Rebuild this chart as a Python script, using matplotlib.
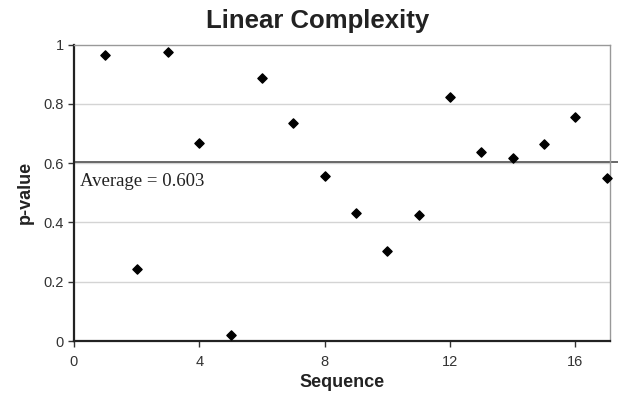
import matplotlib
matplotlib.use('Agg')
import matplotlib.pyplot as plt

# p-values per sequence
sequence = list(range(1, 18))
p_values = [0.965, 0.242, 0.974, 0.667, 0.019, 0.889, 0.737, 0.557, 0.431,
            0.305, 0.426, 0.824, 0.638, 0.619, 0.666, 0.755, 0.551]
average = 0.603
x_ticks = [0, 4, 8, 12, 16]
y_ticks = [0, 0.2, 0.4, 0.6, 0.8, 1]

plt.rcParams['font.family'] = ['Liberation Sans', 'DejaVu Sans']

fig = plt.figure(figsize=(6.18, 3.94), dpi=100)
ax = fig.add_axes([0.1197, 0.1345, 0.8673, 0.752])

# gridlines
for y in y_ticks[1:-1]:
    ax.axhline(y, color='#d4d4d4', linewidth=1, zorder=1)

# average line runs past the frame
ax.plot([0, 17.4], [average, average], color='#404040', linewidth=1.1,
        clip_on=False, zorder=2)
ax.text(0.2, 0.523, 'Average = %.3f' % average,
        family=['Liberation Serif', 'DejaVu Serif'], fontsize=13.5,
        va='baseline', ha='left', color='#222222')

ax.scatter(sequence, p_values, marker='D', s=22, color='black', zorder=3,
           clip_on=False)

ax.set_xlim(0, 17.1)
ax.set_ylim(0, 1)
ax.set_xticks(x_ticks)
ax.set_yticks(y_ticks)
ax.set_yticklabels(['0', '0.2', '0.4', '0.6', '0.8', '1'])
ax.tick_params(axis='both', labelsize=10.5, colors='#333333', length=4,
               width=1, direction='out')
ax.tick_params(axis='x', pad=6)

for side in ['left', 'bottom']:
    ax.spines[side].set_color('#222222')
    ax.spines[side].set_linewidth(1.6)
for side in ['top', 'right']:
    ax.spines[side].set_color('#999999')
    ax.spines[side].set_linewidth(1)

fig.text(317.5 / 618, 0.929, 'Linear Complexity', fontsize=18.5,
         fontweight='bold', color='#222222', ha='center', va='baseline')
ax.set_xlabel('Sequence', fontsize=13, fontweight='bold', color='#222222',
              labelpad=4)
ax.set_ylabel('p-value', fontsize=13, fontweight='bold', color='#222222',
              labelpad=7)

plt.savefig('out.png', dpi=100)
